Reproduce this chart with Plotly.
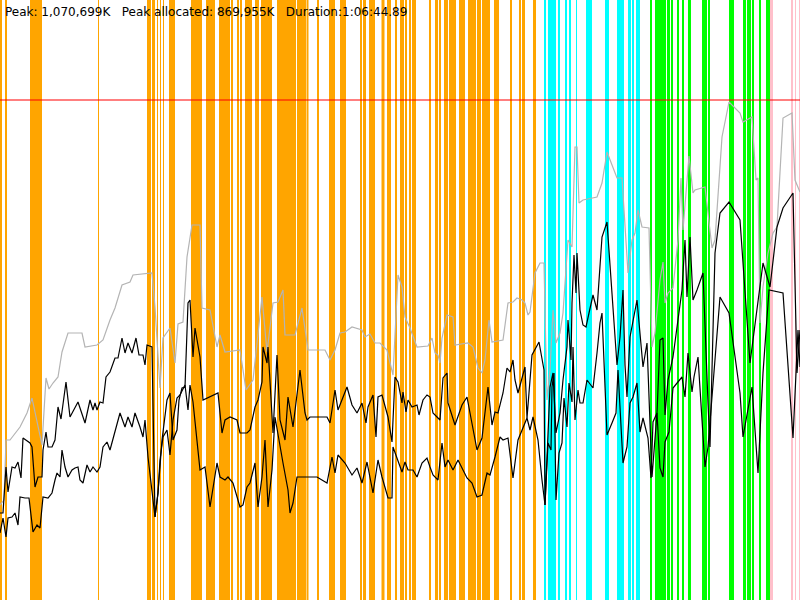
import plotly.graph_objects as go

# time axis runs 0..800, heap axis 0..600 (limit line at 500)
x_end = 800
y_top = 600
heap_limit = 500

# gc events: [start, end] per kind
young_gc = [(0, 2), (5, 7), (30, 42), (98, 99), (147, 151), (152, 155), (157, 158),
            (160, 161), (163, 164), (169, 175), (191, 202), (206, 215), (219, 230),
            (231, 233), (237, 239), (240, 242), (245, 252), (255, 259), (261, 272),
            (277, 296), (297, 306), (306.5, 308.5), (317, 319), (329, 335), (340, 346),
            (360, 362), (363, 366), (369, 375), (381.5, 384.5), (387, 391), (395, 397),
            (400, 404), (405, 407), (409, 411), (412, 416), (429, 431), (435, 438),
            (439, 441), (444, 448), (449, 456), (459, 465), (468, 476), (477, 481),
            (482, 490), (494, 499), (510, 512), (519, 521), (522, 525), (533, 536)]
concurrent = [(544, 546), (548, 556), (558, 560), (565, 567), (569, 571), (576, 577),
              (586, 592), (605, 609), (617, 624), (628, 631), (632, 634), (636, 640)]
remark = [(650, 652), (655, 666), (667, 670), (671, 673), (677, 679), (682, 684),
          (688, 691), (702, 707), (708, 710), (729, 734), (743, 746), (747, 751),
          (752, 754), (759, 761), (766, 770)]
full_gc = [(770, 773), (791, 793), (795, 796), (799, 800)]

# committed heap
heap_t = [0, 4, 6, 10, 20, 27, 32, 42, 46, 49, 53, 58, 62, 68, 82, 85, 97, 103, 110, 115,
          122, 130, 133, 152, 155, 160, 163, 170, 175, 178, 183, 187, 192, 200, 202, 210,
          217, 220, 225, 240, 246, 253, 262, 267, 273, 278, 283, 285, 295, 302, 308, 325,
          330, 335, 340, 345, 352, 362, 365, 370, 375, 380, 387, 393, 398, 402, 405, 410,
          417, 428, 432, 435, 438, 440, 442, 447, 453, 455, 468, 473, 478, 482, 485, 489,
          492, 503, 508, 513, 517, 522, 525, 528, 530, 535, 540, 544, 547, 550, 553, 556,
          560, 563, 568, 572, 575, 577, 579, 583, 597, 602, 607, 617, 622, 628, 632, 635,
          638, 642, 649, 652, 655, 660, 663, 665, 668, 673, 678, 681, 683, 687, 689, 693,
          695, 705, 712, 715, 722, 729, 735, 740, 743, 752, 756, 758, 760, 763, 768, 773,
          777, 783, 792, 795, 800]
heap_v = [95, 100, 160, 160, 173, 187, 202, 155, 222, 211, 217, 223, 248, 267, 267, 253,
          255, 260, 280, 292, 315, 318, 325, 327, 293, 212, 262, 272, 237, 276, 278, 343,
          375, 375, 292, 290, 253, 265, 248, 250, 210, 220, 303, 248, 297, 298, 310, 265,
          265, 292, 250, 250, 240, 250, 267, 268, 273, 270, 263, 266, 257, 257, 250, 225,
          325, 313, 283, 272, 253, 254, 262, 247, 245, 237, 262, 285, 283, 255, 257, 253,
          232, 227, 240, 280, 258, 260, 297, 298, 302, 300, 297, 285, 288, 327, 337, 337,
          200, 230, 290, 257, 267, 287, 360, 353, 453, 453, 397, 400, 403, 417, 448, 422,
          422, 327, 360, 367, 390, 373, 372, 253, 267, 320, 338, 297, 307, 312, 360, 422,
          370, 420, 444, 407, 410, 413, 352, 360, 463, 498, 492, 487, 478, 483, 420, 422,
          277, 313, 347, 367, 373, 482, 487, 420, 408]

# used before gc
used_hi_t = [0, 3, 6, 8, 12, 15, 18, 21, 23, 30, 32, 35, 38, 42, 43, 46, 48, 52, 55, 58,
             61, 63, 66, 70, 78, 85, 90, 93, 95, 97, 100, 103, 106, 110, 115, 118, 122, 125,
             128, 132, 136, 139, 143, 145, 147, 152, 155, 158, 162, 167, 170, 173, 177, 179,
             182, 185, 188, 190, 193, 195, 200, 203, 210, 218, 222, 225, 230, 237, 240, 247,
             250, 255, 258, 262, 263, 267, 268, 271, 273, 277, 280, 285, 288, 293, 300, 305,
             307, 310, 317, 327, 330, 335, 338, 347, 352, 357, 362, 366, 368, 373, 376, 378,
             382, 388, 392, 395, 398, 402, 403, 406, 408, 412, 417, 419, 423, 427, 430, 433,
             440, 443, 447, 448, 455, 462, 467, 470, 477, 482, 485, 488, 492, 495, 498, 503,
             507, 510, 513, 515, 518, 525, 527, 532, 539, 544, 545, 548, 550, 553, 556, 560,
             563, 567, 568, 571, 572, 574, 576, 577, 580, 583, 586, 589, 593, 597, 602, 607,
             612, 617, 620, 623, 625, 627, 630, 633, 637, 643, 647, 652, 657, 660, 663, 665,
             668, 673, 682, 685, 687, 690, 693, 697, 703, 708, 710, 715, 720, 729, 740, 750,
             753, 763, 770, 777, 783, 793, 797, 800]
used_hi_v = [87, 87, 133, 108, 133, 132, 138, 122, 162, 157, 153, 113, 123, 123, 150, 168,
             153, 153, 160, 193, 181, 197, 218, 183, 198, 177, 200, 190, 197, 190, 198, 197,
             223, 228, 242, 242, 262, 247, 257, 247, 262, 245, 245, 235, 255, 253, 83, 107,
             160, 200, 207, 160, 170, 200, 212, 213, 297, 300, 243, 272, 243, 200, 203, 207,
             167, 180, 183, 180, 167, 167, 170, 193, 200, 218, 253, 237, 253, 200, 167, 245,
             180, 160, 203, 173, 230, 187, 180, 183, 183, 183, 177, 210, 190, 213, 195, 187,
             197, 177, 193, 205, 163, 203, 205, 183, 158, 223, 218, 197, 208, 188, 200, 193,
             195, 185, 200, 205, 203, 187, 180, 222, 227, 197, 175, 195, 203, 187, 150, 162,
             185, 213, 175, 188, 187, 207, 232, 228, 240, 220, 207, 233, 182, 245, 258, 230,
             95, 157, 213, 227, 167, 187, 220, 253, 280, 240, 297, 345, 307, 347, 290, 275,
             273, 287, 305, 290, 363, 378, 307, 235, 263, 310, 235, 203, 263, 280, 300, 233,
             257, 123, 187, 260, 262, 185, 220, 243, 310, 360, 303, 363, 300, 310, 327, 197,
             153, 347, 387, 398, 380, 237, 260, 337, 313, 373, 392, 407, 227, 270]

# used after gc
used_lo_t = [0, 3, 6, 8, 12, 15, 18, 20, 25, 29, 33, 37, 40, 43, 48, 52, 55, 57, 60, 62,
             65, 68, 72, 75, 78, 80, 83, 87, 90, 93, 97, 100, 103, 107, 110, 115, 120, 125,
             128, 132, 135, 140, 143, 145, 148, 155, 158, 160, 163, 167, 170, 173, 177, 180,
             185, 188, 190, 193, 200, 205, 210, 217, 220, 225, 228, 233, 240, 243, 247, 250,
             255, 258, 262, 265, 268, 272, 275, 283, 288, 290, 293, 297, 303, 317, 327, 332,
             335, 338, 345, 352, 357, 362, 367, 373, 378, 382, 388, 392, 393, 398, 402, 405,
             408, 413, 417, 422, 427, 430, 433, 438, 442, 445, 448, 453, 458, 467, 472, 477,
             482, 487, 490, 495, 500, 503, 508, 513, 518, 527, 530, 533, 538, 542, 545, 548,
             551, 552, 554, 556, 559, 562, 564, 567, 569, 572, 573, 575, 578, 580, 583, 587,
             593, 597, 600, 602, 607, 612, 616, 618, 623, 627, 630, 633, 637, 640, 643, 648,
             651, 653, 657, 660, 663, 665, 669, 673, 682, 685, 688, 692, 694, 698, 705, 708,
             720, 729, 740, 743, 752, 758, 763, 769, 783, 793, 798, 800]
used_lo_v = [67, 82, 63, 82, 83, 87, 75, 103, 102, 102, 68, 75, 72, 103, 102, 107, 120, 127,
             123, 150, 133, 123, 130, 132, 133, 120, 117, 135, 128, 133, 128, 133, 153, 158,
             150, 170, 187, 173, 183, 173, 187, 173, 163, 180, 143, 83, 107, 140, 163, 170,
             145, 180, 202, 205, 215, 190, 215, 198, 130, 133, 93, 137, 123, 120, 123, 117,
             93, 95, 113, 117, 137, 93, 123, 160, 93, 130, 183, 137, 110, 87, 97, 123, 123,
             123, 117, 143, 127, 145, 137, 125, 132, 117, 138, 107, 140, 123, 102, 102, 153,
             138, 128, 138, 130, 130, 123, 137, 142, 133, 125, 120, 157, 133, 140, 130, 140,
             122, 117, 103, 105, 127, 125, 143, 163, 160, 162, 122, 160, 182, 170, 183, 160,
             120, 95, 157, 150, 213, 227, 100, 147, 157, 202, 173, 217, 198, 253, 180, 210,
             197, 197, 220, 212, 247, 277, 287, 165, 177, 187, 230, 137, 153, 197, 203, 217,
             168, 182, 162, 122, 178, 187, 132, 123, 158, 168, 212, 223, 203, 247, 208, 223,
             243, 133, 153, 303, 287, 207, 163, 213, 127, 227, 310, 307, 162, 270, 233]

summary = "Peak: 1,070,699K\u00a0\u00a0\u00a0Peak allocated: 869,955K\u00a0\u00a0\u00a0Duration:1:06:44.89"

fig = go.Figure()

# gc event bands
for events, colour in [(young_gc, "orange"), (concurrent, "cyan"),
                       (remark, "lime"), (full_gc, "pink")]:
    fig.add_trace(go.Bar(
        x=[(s + e) / 2 for s, e in events],
        width=[e - s for s, e in events],
        y=[y_top] * len(events),
        marker=dict(color=colour, line=dict(width=0)),
        hoverinfo="skip",
    ))

fig.add_trace(go.Scatter(x=heap_t, y=heap_v, mode="lines",
                         line=dict(color="#b4b4b4", width=1.2)))
fig.add_trace(go.Scatter(x=used_hi_t, y=used_hi_v, mode="lines",
                         line=dict(color="black", width=1.2)))
fig.add_trace(go.Scatter(x=used_lo_t, y=used_lo_v, mode="lines",
                         line=dict(color="black", width=1.2)))
# max heap
fig.add_trace(go.Scatter(x=[0, x_end], y=[heap_limit, heap_limit], mode="lines",
                         line=dict(color="rgba(255,0,0,0.5)", width=2)))

fig.add_annotation(text=summary, xref="paper", yref="paper", x=0.0035, y=0.995,
                   xanchor="left", yanchor="top", showarrow=False,
                   font=dict(family="DejaVu Sans", size=12, color="black"))

fig.update_layout(
    width=800, height=600,
    margin=dict(l=0, r=0, t=0, b=0),
    showlegend=False,
    barmode="overlay",
    paper_bgcolor="white", plot_bgcolor="white",
    xaxis=dict(range=[0, x_end], visible=False, fixedrange=True),
    yaxis=dict(range=[0, y_top], visible=False, fixedrange=True),
)

# drop the page's default body margin so the chart fills the window
fig.write_html("out.html", config={"displayModeBar": False},
               post_script="document.body.style.margin='0';document.body.style.overflow='hidden';")
